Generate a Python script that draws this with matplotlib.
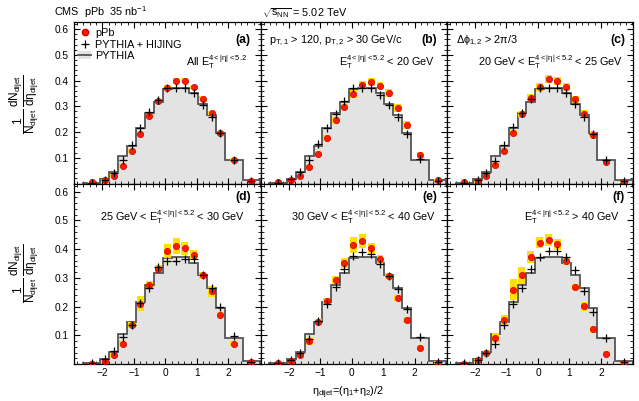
import numpy as np
import matplotlib
matplotlib.use("Agg")
import matplotlib.pyplot as plt
from matplotlib.lines import Line2D
from matplotlib.patches import Patch
from matplotlib.ticker import MultipleLocator

plt.rcParams['font.family'] = ['Liberation Sans', 'DejaVu Sans']
plt.rcParams['mathtext.fontset'] = 'custom'
plt.rcParams['mathtext.rm'] = 'Liberation Sans'
plt.rcParams['mathtext.it'] = 'Liberation Sans'
plt.rcParams['mathtext.bf'] = 'Liberation Sans:bold'

# eta_dijet bin edges
edges = [-2.62, -2.06, -1.78, -1.50, -1.21, -0.93, -0.65, -0.37, -0.09,
         0.20, 0.48, 0.76, 1.04, 1.32, 1.61, 1.89, 2.45, 3.01]

# PYTHIA reference (same in every panel)
pythia = [0.002, 0.017, 0.043, 0.105, 0.147, 0.214, 0.274, 0.316, 0.369,
          0.371, 0.373, 0.350, 0.309, 0.265, 0.195, 0.092, 0.012]

# pPb data, one list per panel
ppb_a = [0.004, 0.013, 0.031, 0.069, 0.126, 0.194, 0.262, 0.319, 0.373, 0.399, 0.399, 0.375, 0.330, 0.274, 0.198, 0.091, 0.009]
ppb_b = [0.004, 0.014, 0.031, 0.064, 0.115, 0.176, 0.245, 0.297, 0.348, 0.383, 0.394, 0.380, 0.351, 0.295, 0.228, 0.112, 0.012]
ppb_c = [0.004, 0.010, 0.031, 0.070, 0.127, 0.196, 0.270, 0.334, 0.375, 0.405, 0.400, 0.375, 0.328, 0.271, 0.190, 0.082, 0.007]
ppb_d = [0.001, 0.009, 0.030, 0.070, 0.135, 0.210, 0.274, 0.332, 0.393, 0.411, 0.402, 0.379, 0.309, 0.253, 0.172, 0.071, 0.006]
ppb_e = [0.002, 0.010, 0.030, 0.079, 0.146, 0.218, 0.292, 0.352, 0.414, 0.427, 0.402, 0.364, 0.306, 0.230, 0.152, 0.057, 0.005]
ppb_f = [0.001, 0.013, 0.039, 0.092, 0.152, 0.259, 0.309, 0.373, 0.422, 0.431, 0.416, 0.358, 0.268, 0.201, 0.121, 0.036, 0.003]

# systematic uncertainties (half height of the yellow boxes)
sys_a = [0.003, 0.004, 0.006, 0.007, 0.008, 0.008, 0.008, 0.008, 0.009, 0.010, 0.010, 0.009, 0.009, 0.009, 0.008, 0.007, 0.004]
sys_b = [0.003, 0.004, 0.006, 0.008, 0.010, 0.012, 0.012, 0.012, 0.014, 0.015, 0.015, 0.014, 0.015, 0.016, 0.015, 0.010, 0.004]
sys_c = [0.003, 0.004, 0.006, 0.008, 0.010, 0.012, 0.013, 0.014, 0.015, 0.016, 0.016, 0.015, 0.014, 0.013, 0.014, 0.008, 0.004]
sys_d = [0.003, 0.005, 0.008, 0.010, 0.010, 0.025, 0.016, 0.012, 0.024, 0.029, 0.024, 0.018, 0.012, 0.020, 0.010, 0.010, 0.004]
sys_e = [0.003, 0.005, 0.008, 0.012, 0.012, 0.012, 0.014, 0.018, 0.029, 0.025, 0.020, 0.015, 0.010, 0.010, 0.010, 0.008, 0.004]
sys_f = [0.003, 0.005, 0.010, 0.015, 0.017, 0.035, 0.030, 0.020, 0.020, 0.020, 0.018, 0.012, 0.012, 0.015, 0.012, 0.008, 0.004]

# PYTHIA + HIJING
hij_a = [0.003, 0.015, 0.040, 0.090, 0.150, 0.214, 0.277, 0.324, 0.373, 0.373, 0.373, 0.352, 0.307, 0.260, 0.198, 0.093, 0.008]
hij_b = [0.003, 0.017, 0.045, 0.093, 0.155, 0.215, 0.272, 0.320, 0.370, 0.372, 0.370, 0.345, 0.305, 0.258, 0.193, 0.095, 0.010]
hij_c = [0.003, 0.014, 0.041, 0.088, 0.148, 0.218, 0.273, 0.329, 0.373, 0.373, 0.373, 0.351, 0.308, 0.258, 0.193, 0.092, 0.008]
hij_d = [0.002, 0.016, 0.044, 0.094, 0.136, 0.213, 0.266, 0.336, 0.359, 0.359, 0.367, 0.364, 0.311, 0.266, 0.199, 0.098, 0.008]
hij_e = [0.002, 0.014, 0.038, 0.086, 0.148, 0.210, 0.268, 0.330, 0.376, 0.388, 0.381, 0.347, 0.306, 0.260, 0.190, 0.094, 0.008]
hij_f = [0.002, 0.015, 0.039, 0.071, 0.134, 0.208, 0.263, 0.330, 0.371, 0.393, 0.393, 0.373, 0.326, 0.253, 0.182, 0.091, 0.008]

panel_tags = ['(a)', '(b)', '(c)', '(d)', '(e)', '(f)']
ppb_all = [ppb_a, ppb_b, ppb_c, ppb_d, ppb_e, ppb_f]
sys_all = [sys_a, sys_b, sys_c, sys_d, sys_e, sys_f]
hij_all = [hij_a, hij_b, hij_c, hij_d, hij_e, hij_f]

xticks = [-2, -1, 0, 1, 2]
yticks = [0.1, 0.2, 0.3, 0.4, 0.5, 0.6]

ET = r"E$_{\rm T}^{4<|\eta|<5.2}$"

W, H = 639, 401
fig = plt.figure(figsize=(W / 100, H / 100), dpi=100)


def px_box(x0, y0, x1, y1):
    return [x0 / W, 1 - y1 / H, (x1 - x0) / W, (y1 - y0) / H]


def ftext(x, y, s, ha='left', va='baseline', **kw):
    fig.text(x / W, 1 - y / H, s, ha=ha, va=va, **kw)


cols = [(74, 260.5), (260.5, 446.7), (446.7, 633)]
rows = [(22, 183.5), (183.5, 364)]

edges = np.array(edges)
centers = 0.5 * (edges[1:] + edges[:-1])

yellow = '#ffdf00'
red = '#ff1a00'
axes = []
for i in range(6):
    r, c = divmod(i, 3)
    ax = fig.add_axes(px_box(cols[c][0], rows[r][0], cols[c][1], rows[r][1]))
    axes.append(ax)
    ppb = np.array(ppb_all[i])
    sy = np.array(sys_all[i])
    ax.stairs(pythia, edges, fill=True, color='#e3e3e3', zorder=1)
    ax.stairs(pythia, edges, color='#555555', lw=1.3, zorder=2)
    ax.bar(centers, 2 * sy, bottom=ppb - sy, width=0.22, color=yellow, zorder=3)
    ax.plot(centers, ppb, 'o', ms=4.5, color=red, mec='#d00000', mew=0.5, zorder=4)
    ax.plot(centers, hij_all[i], '+', ms=5.2, mew=0.9, color='black', zorder=5)

    ax.set_xlim(-2.9, 3.02)
    ax.set_ylim(0, 0.628)
    ax.set_xticks(xticks)
    ax.xaxis.set_minor_locator(MultipleLocator(0.2))
    ax.set_yticks(yticks)
    ax.yaxis.set_minor_locator(MultipleLocator(0.02))
    ax.tick_params(which='both', direction='in', top=True, right=True, labelsize=7.3)
    ax.tick_params(which='major', length=4.5, width=0.8)
    ax.tick_params(which='minor', length=2.3, width=0.6)
    ax.tick_params(axis='y', pad=4)
    ax.tick_params(axis='x', pad=3)
    if c != 0:
        ax.set_yticklabels([])
    else:
        ax.set_yticklabels([f"{v:.1f}" for v in yticks])
    if r == 0:
        ax.set_xticklabels([])
    for s in ax.spines.values():
        s.set_linewidth(0.9)

# legend in panel (a)
handles = [Line2D([], [], marker='o', ls='none', ms=4.5, color=red, mec='#d00000'),
           Line2D([], [], marker='+', ls='none', ms=5.2, mew=0.9, color='black'),
           (Patch(fc='#e3e3e3', ec='none'), Line2D([], [], color='#555555', lw=1.3))]
axes[0].legend(handles, ['pPb', 'PYTHIA + HIJING', 'PYTHIA'], loc='upper left',
               bbox_to_anchor=(0.01, 0.975), frameon=False, fontsize=7.8,
               handlelength=1.2, handletextpad=0.35, labelspacing=0.12,
               borderaxespad=0, borderpad=0.2)

fs = 7.8
# panel tags
for i, (x, y) in enumerate([(250.5, 43.5), (437.5, 43.5), (625, 43.5),
                            (250.5, 200), (437.5, 200), (625, 200)]):
    ftext(x, y, panel_tags[i], ha='right', fontsize=8.8, fontweight='bold')

ftext(54, 16.5, r"CMS  pPb  35 nb$^{-1}$", fontsize=fs)
ftext(262, 16.5, r"$\sqrt{s_{\rm NN}}$ = 5.02 TeV", fontsize=fs)

ftext(247, 66, "All " + ET, ha='right', fontsize=fs)
ftext(269, 43, r"p$_{\rm T,1}$ > 120, p$_{\rm T,2}$ > 30 GeV/c", fontsize=fs)
ftext(435, 66, ET + " < 20 GeV", ha='right', fontsize=fs)
ftext(456, 43, r"$\Delta\phi_{1,2}$ > 2$\pi$/3", fontsize=fs)
ftext(623, 66, "20 GeV < " + ET + " < 25 GeV", ha='right', fontsize=fs)
ftext(245, 221.5, "25 GeV < " + ET + " < 30 GeV", ha='right', fontsize=fs)
ftext(436.5, 221.5, "30 GeV < " + ET + " < 40 GeV", ha='right', fontsize=fs)
ftext(620, 221.5, ET + " > 40 GeV", ha='right', fontsize=fs)

ylab = r"$\dfrac{1}{N_{\rm dijet}}\,\dfrac{dN_{\rm dijet}}{d\eta_{\rm dijet}}$"
ftext(24, 104, ylab, ha='center', va='center', rotation=90, fontsize=8.5)
ftext(24, 273, ylab, ha='center', va='center', rotation=90, fontsize=8.5)

ftext(312, 395, r"$\eta_{\rm dijet}$=($\eta_{1}$+$\eta_{2}$)/2", fontsize=fs)

fig.savefig("out.png", dpi=100)
